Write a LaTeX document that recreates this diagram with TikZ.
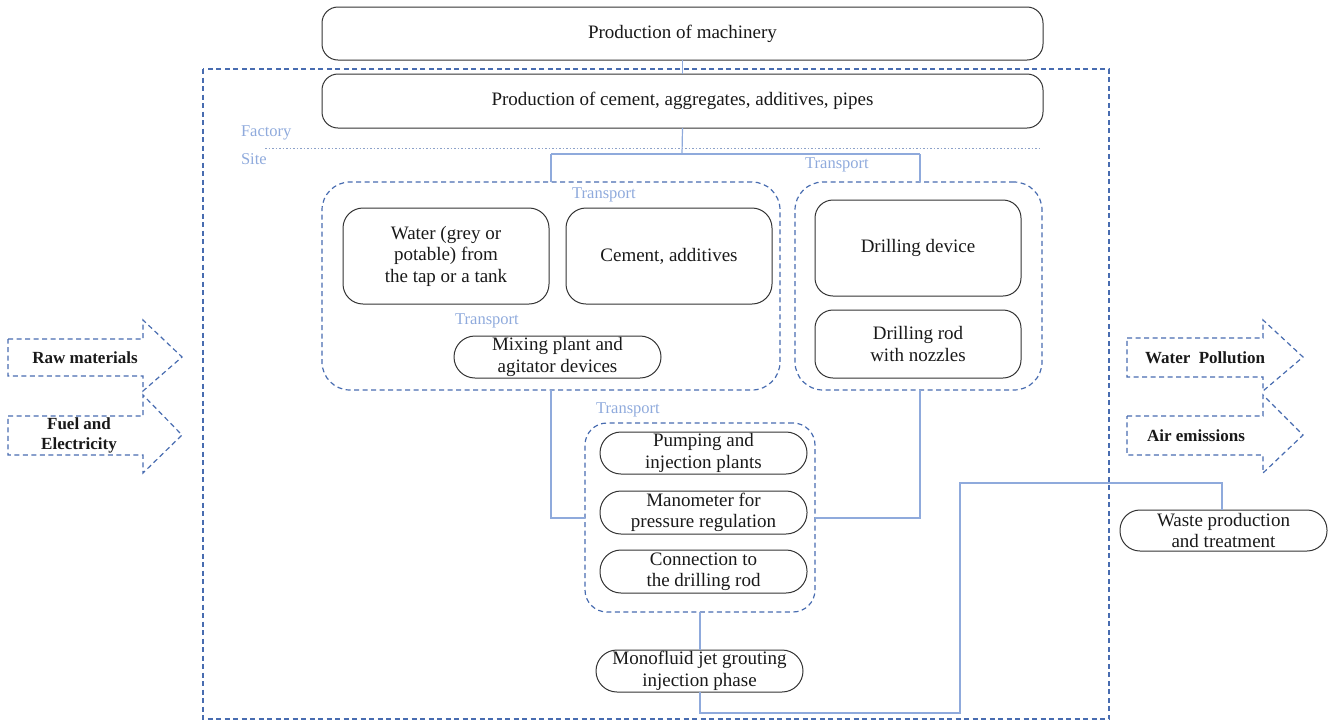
\documentclass[tikz,border=0pt]{standalone}
\usepackage{fontspec}
\setmainfont{Liberation Serif}
\begin{document}
\begin{tikzpicture}[x=1pt,y=-1pt,
  every node/.style={inner sep=0pt, outer sep=0pt},
  box/.style={draw=black!80, line width=1pt, rounded corners=#1, align=center,
    font=\fontsize{19}{21.5}\selectfont, text=black!90},
  box/.default=14pt,
  group/.style={draw=dashblue, line width=1.2pt, dash pattern=on 5pt off 3.5pt, rounded corners=28pt},
  conn/.style={draw=connblue, line width=1.2pt},
  tlabel/.style={text=connblue, font=\fontsize{16.5}{18}\selectfont},
  arr/.style={draw=dashblue, line width=1.2pt, dash pattern=on 5pt off 3.5pt},
  alabel/.style={font=\fontsize{17}{19.5}\selectfont\bfseries, align=center, text=black!90}]
\definecolor{dashblue}{RGB}{72,108,176}
\definecolor{connblue}{RGB}{143,170,220}
\useasboundingbox (0,0) rectangle (1333,724);
% outer site rectangle
\draw[arr] (203,69) rectangle (1109,719);
% factory/site divider
\draw[connblue!80!gray, line width=1pt, dash pattern=on 1.5pt off 2pt] (265,148) -- (1040,148);
\node[tlabel, anchor=west] (factory) at (241,133) {Factory};
\node[tlabel, anchor=west] (site) at (241,159) {Site};
% top boxes
\node[box=16pt, minimum width=721pt, minimum height=53pt, fill=white] (mach) at (682.5,33.5) {Production of machinery};
\node[box=16pt, minimum width=721pt, minimum height=54pt, fill=white] (cem) at (682.5,101) {Production of cement, aggregates, additives, pipes};
\draw[conn] (mach.south) -- (cem.north);
% groups
\node[group, minimum width=458pt, minimum height=208pt] (gleft) at (551,286) {};
\node[group, minimum width=247pt, minimum height=208pt] (gright) at (918.5,286) {};
\node[group, minimum width=230pt, minimum height=189pt, rounded corners=22pt] (gbot) at (700,517.5) {};
% connectors top
\coordinate (j1) at (682,154);
\draw[conn] (cem.south) -- (j1);
\draw[conn] (551,154) -- (920,154);
\draw[conn] (551,154) -- (551,182);
\draw[conn] (920,154) -- (920,182);
\node[tlabel] (t1) at (837,165) {Transport};
% left group content
\node[tlabel] (t2) at (604,195) {Transport};
\node[box=20pt, minimum width=206pt, minimum height=96pt] (water) at (446,256) {Water (grey or\\potable) from\\the tap or a tank};
\node[box=20pt, minimum width=206pt, minimum height=96pt] (cemadd) at (669,256) {Cement, additives};
\node[tlabel] (t3) at (487,321) {Transport};
\node[box=21pt, minimum width=207pt, minimum height=42pt] (mix) at (557.5,357) {Mixing plant and\\agitator devices};
% right group content
\node[box=18pt, minimum width=206pt, minimum height=96pt] (drill) at (918,248) {Drilling device};
\node[box=18pt, minimum width=206pt, minimum height=68pt] (rod) at (918,344) {Drilling rod\\with nozzles};
% bottom group
\node[tlabel] (t4) at (628,410) {Transport};
\node[box=21pt, minimum width=207pt, minimum height=42pt] (pump) at (703.5,453) {Pumping and\\injection plants};
\node[box=21pt, minimum width=207pt, minimum height=43pt] (mano) at (703.5,512.5) {Manometer for\\pressure regulation};
\node[box=21pt, minimum width=207pt, minimum height=43pt] (connr) at (703.5,571.5) {Connection to\\the drilling rod};
% connectors to bottom group
\draw[conn] (551,390) |- (gbot.west |- 0,518);
\draw[conn] (920,390) |- (gbot.east |- 0,518);
% monofluid
\node[box=21pt, minimum width=207pt, minimum height=42pt] (mono) at (699.5,671) {Monofluid jet grouting\\injection phase};
\draw[conn] (700,612) -- (mono.north -| 700,0);
% waste
\node[box=20pt, minimum width=207pt, minimum height=41pt] (waste) at (1223.5,530.5) {Waste production\\and treatment};
\coordinate (w1) at (700,713);
\coordinate (w2) at (960,713);
\coordinate (w3) at (960,483);
\coordinate (w4) at (1222,483);
\draw[conn] (mono.south -| 700,0) -- (w1) -- (w2) -- (w3) -- (w4) -- (1222,510);
% input arrows
\draw[arr] (8,339) -- (143,339) -- (143,320) -- (182,357) -- (143,391) -- (143,376) -- (8,376) -- cycle;
\node[alabel] (raw) at (85,357.5) {Raw materials};
\draw[arr] (8,416) -- (143,416) -- (143,395) -- (182,435) -- (143,473) -- (143,455) -- (8,455) -- cycle;
\node[alabel] (fuel) at (79,435.5) {Fuel and\\Electricity};
% output arrows
\draw[arr] (1127,338) -- (1263,338) -- (1263,320) -- (1303,357) -- (1263,391) -- (1263,377) -- (1127,377) -- cycle;
\node[alabel] (wpol) at (1205,357.5) {Water\ \ Pollution};
\draw[arr] (1127,416) -- (1263,416) -- (1263,395) -- (1303,435) -- (1263,473) -- (1263,455) -- (1127,455) -- cycle;
\node[alabel] (air) at (1196,435.5) {Air emissions};
\end{tikzpicture}
\end{document}
